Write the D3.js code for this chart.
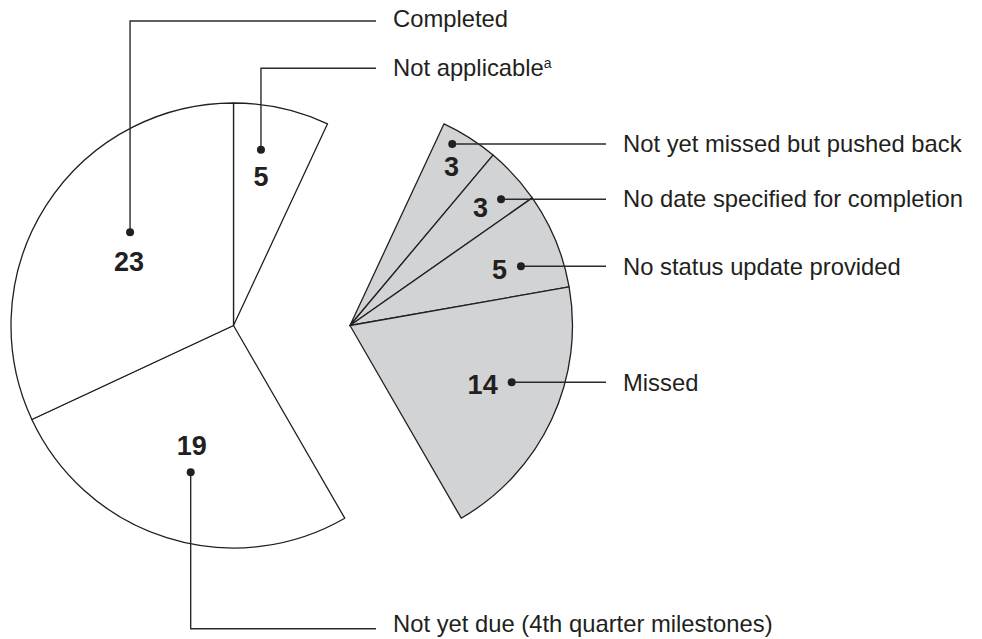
<!DOCTYPE html>
<html>
<head>
<meta charset="utf-8">
<script src="https://cdn.jsdelivr.net/npm/d3@7"></script>
<style>
  html, body { margin: 0; padding: 0; background: #ffffff; }
  svg { display: block; }
  text { font-family: "Liberation Sans", Arial, Helvetica, sans-serif; fill: #231f20; }
</style>
</head>
<body>
<svg id="chart" width="982" height="639"></svg>
<script>
// Milestone status, in pie order (clockwise from 12 o'clock)
const categories = [
  "Not applicable",
  "Not yet missed but pushed back",
  "No date specified for completion",
  "No status update provided",
  "Missed",
  "Not yet due (4th quarter milestones)",
  "Completed"
];
const counts = [5, 3, 3, 5, 14, 19, 23];
// slices pulled out of the pie and shaded
const detached = [false, true, true, true, true, false, false];
// footnote marks on category names
const noteMarks = ["a", "", "", "", "", "", ""];

// ---- layout ----
const R = 222.5;
const cx = 233.5, cy = 325.5;
const detachShift = 116.5;
const leftLineEnd = 376, leftTextX = 393;
const rightLineEnd = 606, rightTextX = 623;

// where each call-out dot sits inside its slice (fraction of angular span, fraction of radius),
// where the value sits relative to the dot, how the leader is routed,
// and the name's baseline offset from its leader
const callouts = [
  { t: 0.355, rf: 0.800, dx: 0,    dy: 36.7,  anchor: "middle", route: "up",   y: 68.3,  base: 7.7 },
  { t: 0.293, rf: 0.936, dx: -0.6, dy: 32.3,  anchor: "middle", route: "right", base: 8.3 },
  { t: 0.673, rf: 0.885, dx: -13,  dy: 18,    anchor: "end",    route: "right", base: 8.3 },
  { t: 0.636, rf: 0.813, dx: -14,  dy: 12.6,  anchor: "end",    route: "right", base: 8.3 },
  { t: 0.419, rf: 0.770, dx: -14,  dy: 11.6,  anchor: "end",    route: "right", base: 8.3 },
  { t: 0.487, rf: 0.687, dx: 1,    dy: -17.3, anchor: "middle", route: "down", y: 628.7, base: 3.5 },
  { t: 0.583, rf: 0.626, dx: -1,   dy: 38.4,  anchor: "middle", route: "up",   y: 21,    base: 5.7 }
];

const svg = d3.select("#chart");

const pie = d3.pie().sort(null).value(d => d).startAngle(0).endAngle(2 * Math.PI);
const arcs = pie(counts);
const arc = d3.arc().innerRadius(0).outerRadius(R);

const originX = i => cx + (detached[i] ? detachShift : 0);

// slices
svg.append("g")
  .selectAll("path")
  .data(arcs)
  .join("path")
  .attr("transform", (d, i) => `translate(${originX(i)},${cy})`)
  .attr("d", arc)
  .attr("fill", (d, i) => detached[i] ? "#d1d3d4" : "#ffffff")
  .attr("stroke", "#231f20")
  .attr("stroke-width", 1.3)
  .attr("stroke-linejoin", "round");

// call-out anchor points
const points = arcs.map((s, i) => {
  const c = callouts[i];
  const a = s.startAngle + c.t * (s.endAngle - s.startAngle);
  const r = c.rf * R;
  return { x: originX(i) + r * Math.sin(a), y: cy - r * Math.cos(a) };
});

const lead = svg.append("g");
const labels = svg.append("g");

arcs.forEach((s, i) => {
  const c = callouts[i];
  const p = points[i];
  let path, tx, ty;
  if (c.route === "right") {
    path = `M${p.x},${p.y}H${rightLineEnd}`;
    tx = rightTextX; ty = p.y;
  } else {
    path = `M${p.x},${p.y}V${c.y}H${leftLineEnd}`;
    tx = leftTextX; ty = c.y;
  }
  lead.append("path")
    .attr("d", path)
    .attr("fill", "none")
    .attr("stroke", "#2b2b2b")
    .attr("stroke-width", 1.4);
  lead.append("circle")
    .attr("cx", p.x).attr("cy", p.y).attr("r", 4)
    .attr("fill", "#231f20");

  // value inside slice
  labels.append("text")
    .attr("x", p.x + c.dx)
    .attr("y", p.y + c.dy)
    .attr("text-anchor", c.anchor)
    .attr("font-size", 27)
    .attr("font-weight", "bold")
    .text(counts[i]);

  // category name
  const t = labels.append("text")
    .attr("x", tx)
    .attr("y", ty + c.base)
    .attr("font-size", 23.8);
  t.append("tspan").text(categories[i]);
  if (noteMarks[i]) {
    t.append("tspan")
      .attr("font-size", 14)
      .attr("dy", -8)
      .text(noteMarks[i]);
  }
});
</script>
</body>
</html>
